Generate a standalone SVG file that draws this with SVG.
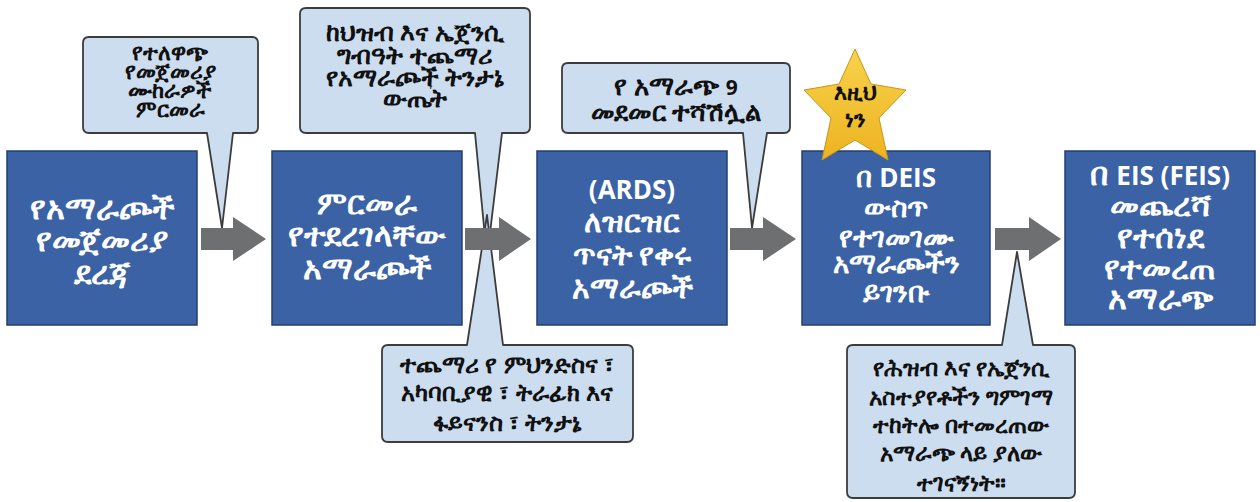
<svg xmlns="http://www.w3.org/2000/svg" width="1260" height="502" viewBox="0 0 1260 502">
<defs>
<style>
.box{fill:#3A62A5;stroke:#253F6B;stroke-width:1.5}
.bt{fill:#fff;font-family:"Open Sans","Noto Sans","DejaVu Sans",sans-serif;font-weight:bold;font-size:32px;text-anchor:middle}
.lat{font-size:26px}
.co{fill:#CCDDF0;stroke:#3C3C3C;stroke-width:1.8;stroke-linejoin:round}
.ct{fill:#111;font-family:"Open Sans","Noto Sans","DejaVu Sans",sans-serif;font-weight:bold;font-size:22px;text-anchor:middle}
.arr{fill:#6E6F71}
</style>
<linearGradient id="sg" x1="0" y1="0" x2="0" y2="1">
<stop offset="0" stop-color="#F8D24A"/>
<stop offset="1" stop-color="#EDB321"/>
</linearGradient>
</defs>
<rect width="1260" height="502" fill="#fff"/>

<g id="callout1">
<path class="co" d="M89,37 H252 Q258,37 258,43 V127 Q258,133 252,133 H233 L222,228 L207,133 H89 Q83,133 83,127 V43 Q83,37 89,37 Z"/>
<text class="ct" x="170" y="60">የተለዋጭ</text>
<text class="ct" x="170" y="79">የመጀመሪያ</text>
<text class="ct" x="170" y="98">ሙከራዎች</text>
<text class="ct" x="170" y="117">ምርመራ</text>
</g>

<g id="callout2">
<path class="co" d="M306,8 H524 Q530,8 530,14 V127 Q530,133 524,133 H502 L487,258 L475,133 H306 Q300,133 300,127 V14 Q300,8 306,8 Z"/>
<text class="ct" x="415" y="41" style="font-size:25px">ከህዝብ እና ኤጀንሲ</text>
<text class="ct" x="415" y="64" style="font-size:25px">ግብዓት ተጨማሪ</text>
<text class="ct" x="415" y="86" style="font-size:25px">የአማራጮች ትንታኔ</text>
<text class="ct" x="415" y="107" style="font-size:25px">ውጤት</text>
</g>

<g id="callout3">
<path class="co" d="M568,63 H784 Q790,63 790,69 V127 Q790,133 784,133 H767 L752,228 L743,133 H568 Q562,133 562,127 V69 Q562,63 568,63 Z"/>
<text class="ct" x="676" y="95" style="font-size:26px">የ አማራጭ <tspan style="font-size:21px">9</tspan></text>
<text class="ct" x="676" y="121" style="font-size:26px">መደመር ተሻሽሏል</text>
</g>

<g id="callout5">
<path class="co" d="M388,345 H467 L487,215 L503,345 H627 Q633,345 633,351 V436 Q633,442 627,442 H388 Q382,442 382,436 V351 Q382,345 388,345 Z"/>
<text class="ct" x="507" y="373" style="font-size:23.5px">ተጨማሪ የ ምህንድስና ፣</text>
<text class="ct" x="507" y="401" style="font-size:23.5px">አካባቢያዊ ፣ ትራፊክ እና</text>
<text class="ct" x="507" y="431" style="font-size:23.5px">ፋይናንስ ፣ ትንታኔ</text>
</g>

<g id="callout4">
<path class="co" d="M853,345 H1002 L1017,252 L1033,345 H1069 Q1075,345 1075,351 V492 Q1075,498 1069,498 H853 Q847,498 847,492 V351 Q847,345 853,345 Z"/>
<text class="ct" x="961" y="376" style="font-size:23px">የሕዝብ እና የኤጀንሲ</text>
<text class="ct" x="961" y="405" style="font-size:23px">አስተያየቶችን ግምገማ</text>
<text class="ct" x="961" y="433" style="font-size:23px">ተከትሎ በተመረጠው</text>
<text class="ct" x="961" y="461" style="font-size:23px">አማራጭ ላይ ያለው</text>
<text class="ct" x="961" y="491" style="font-size:23px">ተገናኝነት።</text>
</g>

<g id="connectors">
<path class="arr" d="M201,228 H233 V217 L266,239 L233,261 V250 H201 Z"/>
<path class="arr" d="M465,228 H499 V217 L531,239 L499,261 V250 H465 Z"/>
<path class="arr" d="M730,228 H763 V217 L796,239 L763,261 V250 H730 Z"/>
<path class="arr" d="M995,228 H1029 V217 L1061,239 L1029,261 V250 H995 Z"/>
</g>

<g id="box1">
<rect class="box" x="7" y="151" width="190" height="174"/>
<text class="bt" x="102" y="219">የአማራጮች</text>
<text class="bt" x="102" y="251">የመጀመሪያ</text>
<text class="bt" x="102" y="284">ደረጃ</text>
</g>
<g id="box2">
<rect class="box" x="272" y="151" width="190" height="174"/>
<text class="bt" x="367" y="214">ምርመራ</text>
<text class="bt" x="367" y="246">የተደረገላቸው</text>
<text class="bt" x="367" y="279">አማራጮች</text>
</g>
<g id="box3">
<rect class="box" x="537" y="151" width="190" height="174"/>
<text class="bt lat" x="632" y="199">(ARDS)</text>
<text class="bt" x="632" y="232" style="font-size:30px">ለዝርዝር</text>
<text class="bt" x="632" y="265" style="font-size:30px">ጥናት የቀሩ</text>
<text class="bt" x="632" y="298" style="font-size:30px">አማራጮች</text>
</g>
<g id="box4">
<rect class="box" x="802" y="151" width="188" height="174"/>
<text class="bt" x="896" y="187" style="font-size:28px">በ <tspan class="lat">DEIS</tspan></text>
<text class="bt" x="896" y="217" style="font-size:28px">ውስጥ</text>
<text class="bt" x="896" y="247" style="font-size:28px">የተገመገሙ</text>
<text class="bt" x="896" y="273" style="font-size:28px">አማራጮችን</text>
<text class="bt" x="896" y="302" style="font-size:28px">ይገንቡ</text>
</g>
<g id="box5">
<rect class="box" x="1065" y="151" width="190" height="174"/>
<text class="bt" x="1160" y="185">በ <tspan class="lat">EIS (FEIS)</tspan></text>
<text class="bt" x="1160" y="216">መጨረሻ</text>
<text class="bt" x="1160" y="248">የተሰነደ</text>
<text class="bt" x="1160" y="279">የተመረጠ</text>
<text class="bt" x="1160" y="309">አማራጭ</text>
</g>

<g id="star">
<polygon points="855,49 871,84 906,90 879,118 888,160 855,140 822,160 831,118 804,90 839,84" fill="url(#sg)" stroke="#C8961A" stroke-width="1"/>
<text x="855" y="100" style="fill:#111;font-family:'Open Sans','Noto Sans','DejaVu Sans',sans-serif;font-weight:bold;font-size:22px;text-anchor:middle">እዚህ</text>
<text x="855" y="127" style="fill:#111;font-family:'Open Sans','Noto Sans','DejaVu Sans',sans-serif;font-weight:bold;font-size:22px;text-anchor:middle">ነን</text>
</g>
</svg>
